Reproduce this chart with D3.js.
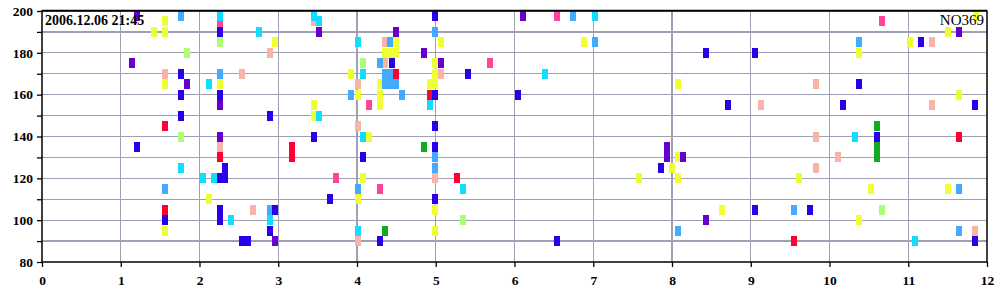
<!DOCTYPE html>
<html>
<head>
<meta charset="utf-8">
<script src="https://cdn.jsdelivr.net/npm/d3@7"></script>
<style>
html, body { margin: 0; padding: 0; background: #fff; }
svg { display: block; }
</style>
</head>
<body>
<svg id="chart" width="1000" height="300"></svg>
<script>
// ---- data ----
const xTicks = [0,1,2,3,4,5,6,7,8,9,10,11,12];
const yTicks = [80,90,100,110,120,130,140,150,160,170,180,190,200];
const yLabels = [80,100,120,140,160,180,200];
const titleLeft = "2006.12.06 21:45";
const titleRight = "NO369";

const salmon = [[1.556,170],[2.26,135],[2.546,170],[2.895,180],[3.45,195],[2.68,105],[4.36,185],[4.36,175],[5.067,170],[4.013,165],[4.013,145],[4.99,120],[4.013,90],[9.13,155],[11.30,185],[9.83,165],[11.30,155],[9.83,140],[10.11,130],[9.83,125],[11.85,95]];
const hotPink = [[2.26,194],[3.727,120],[4.15,155],[4.286,115],[5.69,175],[6.54,197.5],[10.67,195]];
const red = [[1.556,145],[1.556,105],[2.254,130],[3.17,135],[3.175,130],[4.93,160],[5.27,120],[11.64,140],[9.55,90]];
const lightGreen = [[2.26,185],[1.835,180],[1.76,140],[4.076,175],[5.35,100],[10.67,105]];
const green = [[4.85,135],[4.355,95],[10.60,145],[10.60,135],[10.60,130]];
const yellow = [[1.422,190],[1.556,195],[1.556,190],[1.556,165],[1.556,95],[2.254,165],[2.12,110],[2.96,185],[3.454,155],[3.45,150],[3.93,170],[4.36,180],[4.43,180],[4.49,180],[4.495,185],[5.067,185],[4.99,175],[4.99,170],[4.93,165],[4.99,165],[4.286,165],[4.013,160],[4.29,160],[4.29,155],[4.15,140],[4.076,120],[4.013,110],[4.99,105],[4.99,95],[6.88,185],[8.08,165],[8.07,130],[8.0,125],[7.58,120],[8.08,120],[8.63,105],[10.38,180],[11.02,185],[11.50,190],[11.64,160],[9.61,120],[10.53,115],[11.50,115],[10.38,100],[11.86,197.5]];
const lightBlue = [[1.765,197.5],[2.254,170],[1.556,115],[2.89,105],[4.99,190],[4.425,185],[4.286,175],[4.355,170],[4.355,165],[4.43,170],[4.43,165],[4.49,165],[3.93,160],[4.57,160],[4.99,130],[4.99,125],[4.013,115],[6.74,197.5],[7.016,185],[8.08,95],[10.38,185],[11.64,115],[9.55,105],[11.64,95]];
const cyan = [[2.26,197.5],[2.12,165],[1.765,125],[2.044,120],[2.18,120],[2.40,100],[3.454,197.5],[3.52,195],[2.755,190],[3.52,150],[2.895,100],[4.013,185],[4.076,170],[4.93,155],[4.076,140],[4.013,95],[6.39,170],[5.35,115],[7.016,197.5],[10.32,140],[11.09,90]];
const redTop = [[4.49,170]];
const purple = [[1.2,197.5],[1.143,175],[1.835,165],[2.254,155],[2.254,140],[3.52,190],[2.96,90],[4.49,190],[4.85,180],[5.067,175],[6.11,197.5],[7.94,135],[7.94,130],[8.14,130],[8.43,100],[11.64,190]];
const blue = [[1.2,135],[1.76,170],[1.765,160],[1.765,150],[1.556,100],[2.254,190],[2.254,160],[2.32,125],[2.254,120],[2.32,120],[2.26,105],[2.254,100],[2.54,90],[2.616,90],[2.895,150],[2.96,105],[2.895,95],[3.454,140],[3.657,110],[4.99,197.5],[4.44,175],[4.99,160],[4.99,145],[4.076,130],[4.99,135],[4.99,110],[4.286,90],[5.41,170],[6.04,160],[6.54,90],[8.43,180],[9.05,180],[8.71,155],[7.86,125],[9.05,105],[10.38,165],[10.17,155],[11.85,155],[10.60,140],[9.75,105],[11.16,185],[11.85,90]];

// drawing order (later drawn on top)
const seriesNames = ["salmon","hotPink","red","lightGreen","green","yellow","lightBlue","cyan","redTop","purple","blue"];
const seriesData = [salmon, hotPink, red, lightGreen, green, yellow, lightBlue, cyan, redTop, purple, blue];
const seriesColors = ["#f8b4a8","#ff4499","#ff0033","#aaff77","#11aa22","#eeff33","#44aaff","#11ddff","#ff0033","#6600cc","#2b00e8"];

// ---- chart ----
const svg = d3.select("#chart");
const L = 42, R = 987, T = 11, B = 262;
const x = d3.scaleLinear().domain([0,12]).range([L,R]);
const y = d3.scaleLinear().domain([80,200]).range([B,T]);
const font = "'Liberation Serif','Times New Roman',serif";

// grid
const grid = svg.append("g").attr("shape-rendering","crispEdges");
grid.selectAll("line.v").data(xTicks.filter(d => d > 0 && d < 12)).enter().append("line")
  .attr("x1", d => x(d)).attr("x2", d => x(d)).attr("y1", T).attr("y2", B)
  .attr("stroke", "#a0a0b4").attr("stroke-width", 1.2);
grid.selectAll("line.h").data(yTicks.filter(d => d > 80 && d < 200)).enter().append("line")
  .attr("x1", L).attr("x2", R).attr("y1", d => y(d)).attr("y2", d => y(d))
  .attr("stroke", "#a0a0b4").attr("stroke-width", 1.2);

// marks
const RW = 6, RH = 10;
seriesData.forEach((arr, i) => {
  svg.append("g").attr("class", seriesNames[i]).attr("shape-rendering","crispEdges")
    .selectAll("rect").data(arr).enter().append("rect")
    .attr("x", d => Math.round(x(d[0]) - RW/2))
    .attr("y", d => Math.round(y(d[1]) - RH/2))
    .attr("width", RW).attr("height", RH)
    .attr("fill", seriesColors[i]);
});

// axes
const yAxis = d3.axisLeft(y).tickValues(yTicks).tickSize(5).tickPadding(4)
  .tickFormat(d => yLabels.includes(d) ? d : "");
const gy = svg.append("g").attr("transform", `translate(${L},0)`).call(yAxis);
const xAxis = d3.axisBottom(x).tickValues(xTicks).tickSize(5).tickPadding(8).tickFormat(d3.format("d"));
const gx = svg.append("g").attr("transform", `translate(0,${B})`).call(xAxis);
[gx, gy].forEach(g => {
  g.select(".domain").remove();
  g.selectAll(".tick line").attr("stroke", "#000").attr("stroke-width", 1.3);
  g.selectAll("text").attr("fill", "#000").style("font-family", font)
    .style("font-weight", "bold").style("font-size", "13.5px");
});

// frame
svg.append("rect").attr("x", L).attr("y", T).attr("width", R - L).attr("height", B - T)
  .attr("fill", "none").attr("stroke", "#000").attr("stroke-width", 1.5);
svg.append("line").attr("x1", L).attr("x2", R).attr("y1", T - 0.5).attr("y2", T - 0.5)
  .attr("stroke", "#000").attr("stroke-width", 1.5);

// texts
svg.append("text").attr("x", 45).attr("y", 25).text(titleLeft)
  .style("font-family", font).style("font-weight", "bold").style("font-size", "14px").attr("fill", "#000");
svg.append("text").attr("x", 984).attr("y", 25).attr("text-anchor", "end").text(titleRight)
  .style("font-family", font).style("font-size", "15px").attr("fill", "#000");
</script>
</body>
</html>
